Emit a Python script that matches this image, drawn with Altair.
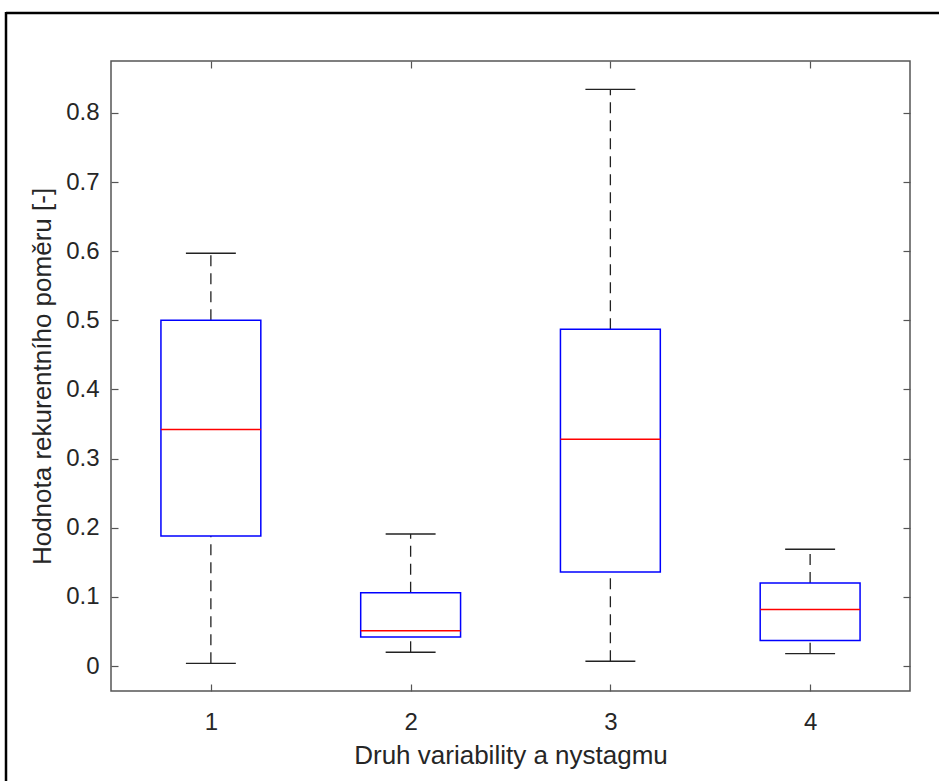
import altair as alt
import pandas as pd

# Data
groups = [1, 2, 3, 4]
lower_whisker = [0.004, 0.020, 0.007, 0.018]
q1 = [0.188, 0.042, 0.136, 0.037]
median = [0.342, 0.051, 0.328, 0.082]
q3 = [0.500, 0.106, 0.487, 0.120]
upper_whisker = [0.597, 0.191, 0.834, 0.169]

x_ticks = [1, 2, 3, 4]
y_ticks = [0, 0.1, 0.2, 0.3, 0.4, 0.5, 0.6, 0.7, 0.8]

x_title = "Druh variability a nystagmu"
y_title = "Hodnota rekurentního poměru [-]"

df = pd.DataFrame({
    "group": groups,
    "lo": lower_whisker,
    "q1": q1,
    "med": median,
    "q3": q3,
    "hi": upper_whisker,
})
df["box_l"] = df["group"] - 0.25
df["box_r"] = df["group"] + 0.25
df["cap_l"] = df["group"] - 0.125
df["cap_r"] = df["group"] + 0.125

FONT = "Liberation Sans"
TXT = "#262626"
AX = "#555555"

xscale = alt.Scale(domain=[0.5, 4.5], nice=False, zero=False)
yscale = alt.Scale(domain=[-0.036, 0.875], nice=False, zero=False)

x_axis = alt.Axis(
    orient="bottom", values=x_ticks, format="d", offset=-7, tickSize=7,
    domain=False, grid=False, labelFontSize=24, labelPadding=19,
    labelColor=TXT, tickColor=AX, tickWidth=1.2, labelFont=FONT,
    title=x_title, titleFont=FONT, titleFontSize=26, titleColor=TXT,
    titleFontWeight="normal", titlePadding=8,
)
y_axis = alt.Axis(
    orient="left", values=y_ticks, format=".1~f", offset=-7, tickSize=7,
    domain=False, grid=False, labelFontSize=24, labelPadding=12,
    labelColor=TXT, tickColor=AX, tickWidth=1.2, labelFont=FONT,
    title=y_title, titleFont=FONT, titleFontSize=26, titleColor=TXT,
    titleFontWeight="normal", titlePadding=10,
)

base = alt.Chart(df)

whisk_up = base.mark_rule(color="#222222", strokeWidth=1.3, strokeDash=[11, 7]).encode(
    x=alt.X("group:Q", scale=xscale, axis=x_axis),
    y=alt.Y("q3:Q", scale=yscale, axis=y_axis),
    y2="hi:Q",
)
whisk_dn = base.mark_rule(color="#222222", strokeWidth=1.3, strokeDash=[11, 7]).encode(
    x=alt.X("group:Q"),
    y=alt.Y("lo:Q"),
    y2="q1:Q",
)
caps_hi = base.mark_rule(color="#222222", strokeWidth=1.3).encode(
    x="cap_l:Q", x2="cap_r:Q", y="hi:Q"
)
caps_lo = base.mark_rule(color="#222222", strokeWidth=1.3).encode(
    x="cap_l:Q", x2="cap_r:Q", y="lo:Q"
)
boxes = base.mark_rect(fill="white", stroke="#0000ff", strokeWidth=1.5).encode(
    x="box_l:Q", x2="box_r:Q", y="q1:Q", y2="q3:Q"
)
medians = base.mark_rule(color="#ff0000", strokeWidth=1.5).encode(
    x="box_l:Q", x2="box_r:Q", y="med:Q"
)

frame_src = alt.Chart(pd.DataFrame({"k": [0]}))
frame_top = frame_src.mark_rule(color="black", strokeWidth=2.5).encode(
    x=alt.value(-105), x2=alt.value(830), y=alt.value(-48)
)
frame_left = frame_src.mark_rule(color="black", strokeWidth=2.5).encode(
    x=alt.value(-105), y=alt.value(-49), y2=alt.value(722)
)

main = alt.layer(whisk_up, whisk_dn, boxes, caps_hi, caps_lo, medians, frame_top, frame_left)

mirror = base.mark_point(opacity=0).encode(
    x=alt.X("group:Q", scale=xscale, axis=alt.Axis(
        orient="top", values=x_ticks, labels=False, offset=-7, tickSize=7,
        domain=False, grid=False, tickColor=AX, tickWidth=1.2, title="")),
    y=alt.Y("med:Q", scale=yscale, axis=alt.Axis(
        orient="right", values=y_ticks, labels=False, offset=-7, tickSize=7,
        domain=False, grid=False, tickColor=AX, tickWidth=1.2, title="")),
)

chart = alt.layer(main, mirror).resolve_scale(
    x="independent", y="independent"
).properties(
    width=799,
    height=630,
    padding={"left": 111, "top": 61, "right": 29, "bottom": 90},
    autosize=alt.AutoSizeParams(type="none"),
    background="white",
).configure_view(
    stroke=AX, strokeWidth=1.5
)

chart.save("out.html", embed_options={"renderer": "svg", "actions": False})
